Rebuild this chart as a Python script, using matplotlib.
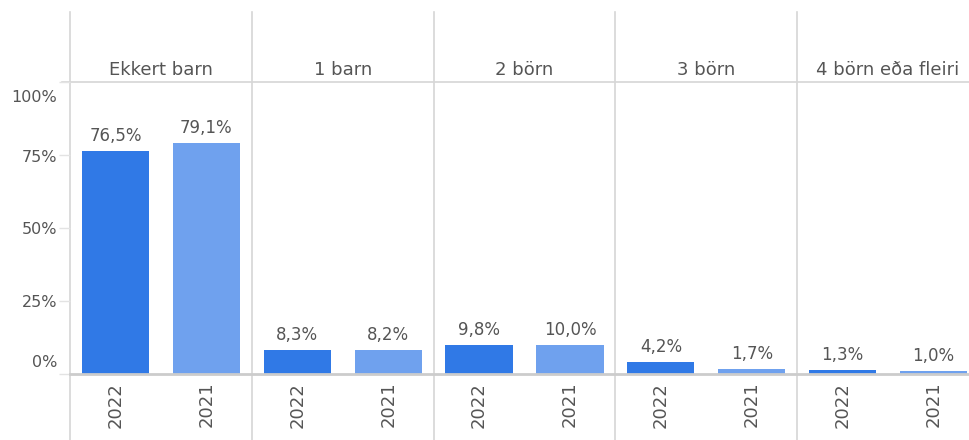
import numpy as np
import matplotlib.pyplot as plt
from matplotlib.transforms import blended_transform_factory

groups = ["Ekkert barn", "1 barn", "2 börn", "3 börn", "4 börn eða fleiri"]
years = ["2022", "2021"]
share_2022 = [76.5, 8.3, 9.8, 4.2, 1.3]
share_2021 = [79.1, 8.2, 10.0, 1.7, 1.0]
yticks = [0, 25, 50, 75, 100]

c_2022 = "#3079e6"
c_2021 = "#6fa1ee"
txt = "#555555"
line_c = "#d6d6d6"

fig = plt.figure(figsize=(9.69, 4.4), dpi=100)
ax = fig.add_axes([70 / 969, 66 / 440, 899 / 969, 292 / 440])

n = len(groups)
x22 = np.arange(n) * 2 + 0.5
x21 = np.arange(n) * 2 + 1.5
w = 0.74

b1 = ax.bar(x22, share_2022, width=w, color=c_2022, zorder=2)
b2 = ax.bar(x21, share_2021, width=w, color=c_2021, zorder=2)

def pct(v):
    return f"{v:.1f}%".replace(".", ",")

for bars, vals in ((b1, share_2022), (b2, share_2021)):
    for rect, v in zip(bars, vals):
        ax.annotate(pct(v), (rect.get_x() + rect.get_width() / 2, v),
                    xytext=(0, 6), textcoords="offset pixels",
                    ha="center", va="bottom", fontsize=12, color=txt)

ax.set_xlim(0, 899 / 90.9)
ax.set_ylim(0, 100)

trans = blended_transform_factory(ax.transData, ax.transAxes)

# panel separators running through header and year rows
for i in range(n):
    ax.plot([2 * i, 2 * i], [-0.226, 1.24], transform=trans,
            color=line_c, lw=1.2, clip_on=False, zorder=1)
    ax.text(2 * i + 1, 1.041, groups[i], transform=trans, ha="center",
            va="center", fontsize=13, color=txt, clip_on=False)
    for xx, yr in ((x22[i], years[0]), (x21[i], years[1])):
        ax.text(xx, -0.105, yr, transform=trans, rotation=90, ha="center",
                va="center", fontsize=13, color=txt, clip_on=False)

# header bottom rule and zero line
ax.plot([-8 / 90.9, 899 / 90.9], [100, 100], color=line_c, lw=1.2,
        clip_on=False, zorder=1)
ax.plot([0, 899 / 90.9], [0, 0], color="#cccccc", lw=2.0,
        clip_on=False, zorder=3)

for s in ax.spines.values():
    s.set_visible(False)

ax.set_xticks([])
ax.set_yticks(yticks)
ax.set_yticklabels([])
ax.tick_params(axis="y", length=8, width=1, color="#e3e3e3")

# y labels nudged inward at the ends of the scale
ytrans = blended_transform_factory(ax.transAxes, ax.transData)
nudge = {0: 12, 25: -1, 50: -1, 75: -2, 100: -15}
for t in yticks:
    ax.annotate(f"{t}%", (0, t), xycoords=ytrans,
                xytext=(-13, nudge[t]), textcoords="offset pixels",
                ha="right", va="center", fontsize=11.5, color=txt)

fig.savefig("out.png", dpi=100)
